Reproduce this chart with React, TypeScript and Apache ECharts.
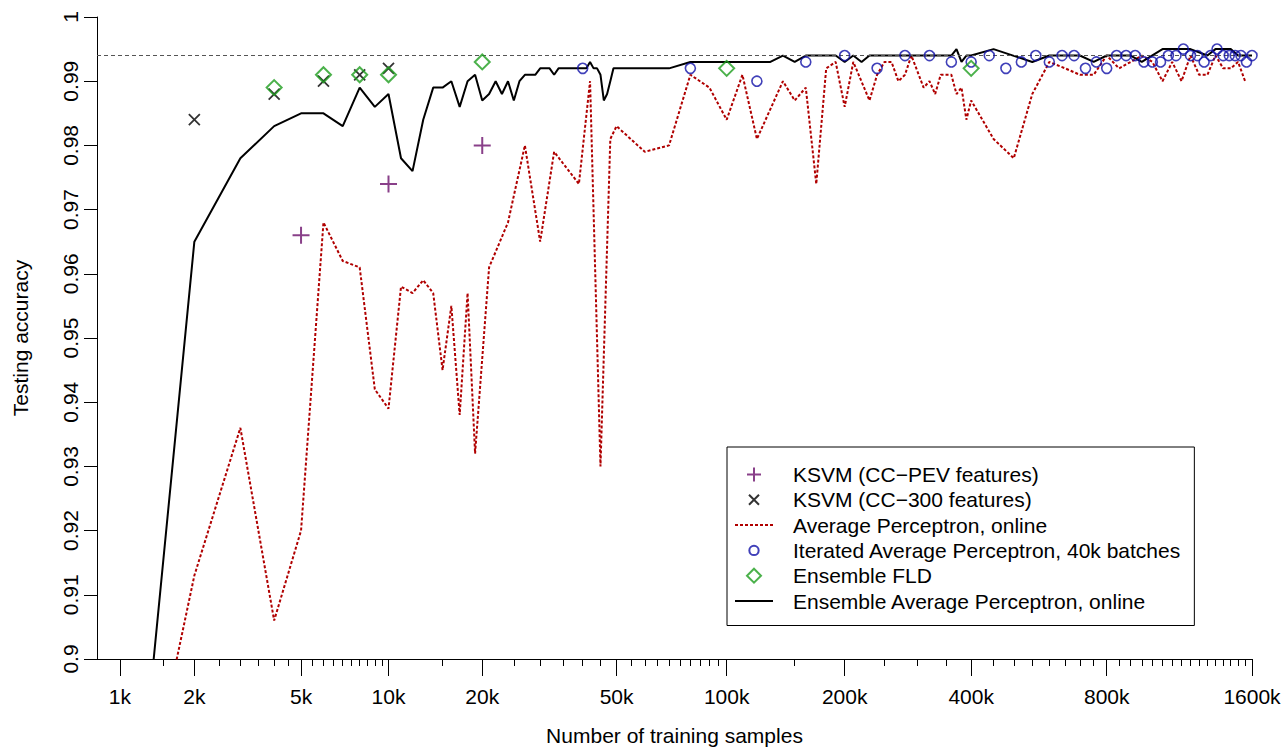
import React, { useEffect, useRef } from "react";
import * as echarts from "echarts";

// x values are numbers of training samples in thousands ("k")
const X_TICKS = [1, 2, 5, 10, 20, 50, 100, 200, 400, 800, 1600];
const X_TICK_LABELS = ["1k", "2k", "5k", "10k", "20k", "50k", "100k", "200k", "400k", "800k", "1600k"];
const X_MINOR_TICKS = [
  1.5, 2.5, 3, 3.5, 4, 4.5, 5.5, 6, 6.5, 7, 7.5, 8, 8.5, 9, 9.5, 15, 25, 30, 35, 40, 45,
  55, 60, 65, 70, 75, 80, 85, 90, 95, 150, 250, 300, 350, 450, 500, 550, 600, 650, 700, 750,
  850, 900, 950, 1000, 1050, 1100, 1150, 1200, 1250, 1300, 1350, 1400, 1450, 1500, 1550,
];
const X_MIN = 0.8;
const X_MAX = 1600;
const Y_MIN = 0.9;
const Y_MAX = 1;
const REFERENCE_ACCURACY = 0.994;

const KSVM_PEV_X = [5, 10, 20];
const KSVM_PEV_Y = [0.966, 0.974, 0.98];

const KSVM_300_X = [2, 4, 6, 8, 10];
const KSVM_300_Y = [0.984, 0.988, 0.99, 0.991, 0.992];

const FLD_X = [4, 6, 8, 10, 20, 100, 400];
const FLD_Y = [0.989, 0.991, 0.991, 0.991, 0.993, 0.992, 0.992];

const ITER_X = [
  40, 80, 120, 160, 200, 240, 280, 320, 360, 400, 440, 480, 520, 560, 600, 640, 680, 720, 760, 800,
  840, 880, 920, 960, 1000, 1040, 1080, 1120, 1160, 1200, 1240, 1280, 1320, 1360, 1400, 1440, 1480, 1520, 1560, 1600,
];
const ITER_Y = [
  0.992, 0.992, 0.99, 0.993, 0.994, 0.992, 0.994, 0.994, 0.993, 0.993, 0.994, 0.992, 0.993, 0.994, 0.993, 0.994, 0.994, 0.992, 0.993, 0.992,
  0.994, 0.994, 0.994, 0.993, 0.993, 0.993, 0.994, 0.994, 0.995, 0.994, 0.994, 0.993, 0.994, 0.995, 0.994, 0.994, 0.994, 0.994, 0.993, 0.994,
];

const AVG_X = [
  1, 2, 3, 4, 5, 6, 7, 8, 9, 10, 11, 12, 13, 14, 15, 16, 17, 18, 19, 21, 24, 27, 30, 33, 39, 42, 45, 48, 50,
  60, 70, 80, 90, 100, 110, 120, 140, 150, 160, 170, 180, 190, 200, 210, 230, 240, 250, 260, 270, 280, 290,
  310, 320, 330, 340, 360, 370, 380, 390, 400, 450, 500, 550, 600, 650, 700, 750, 800, 850, 900, 950, 1000,
  1050, 1100, 1150, 1200, 1250, 1300, 1350, 1400, 1450, 1500, 1550,
];
const AVG_Y = [
  0.858, 0.913, 0.936, 0.906, 0.92, 0.968, 0.962, 0.961, 0.942, 0.939, 0.958, 0.957, 0.959, 0.957, 0.945, 0.955, 0.938, 0.957, 0.932, 0.961, 0.968, 0.98, 0.965, 0.979, 0.974, 0.99, 0.93, 0.981, 0.983,
  0.979, 0.98, 0.991, 0.989, 0.984, 0.991, 0.981, 0.99, 0.987, 0.989, 0.974, 0.992, 0.993, 0.986, 0.993, 0.987, 0.991, 0.993, 0.993, 0.99, 0.991, 0.994,
  0.989, 0.99, 0.988, 0.991, 0.991, 0.988, 0.989, 0.984, 0.987, 0.981, 0.978, 0.988, 0.993, 0.992, 0.991, 0.991, 0.994, 0.992, 0.993, 0.994, 0.993,
  0.99, 0.993, 0.99, 0.994, 0.991, 0.991, 0.994, 0.992, 0.992, 0.993, 0.99,
];

const ENS_X = [
  1, 2, 3, 4, 5, 6, 7, 8, 9, 10, 11, 12, 13, 14, 15, 16, 17, 18, 19, 20, 21, 22, 23, 24, 25, 26, 27, 29, 30, 32, 33, 34,
  41, 42, 43, 44, 45, 46, 47, 48, 49, 70, 80, 130, 140, 150, 160, 190, 200, 210, 220, 230, 360, 370, 380, 390, 400,
  450, 550, 600, 700, 750, 800, 900, 950, 1050, 1200, 1300, 1350, 1450, 1500, 1600,
];
const ENS_Y = [
  0.846, 0.965, 0.978, 0.983, 0.985, 0.985, 0.983, 0.989, 0.986, 0.988, 0.978, 0.976, 0.984, 0.989, 0.989, 0.99, 0.986, 0.99, 0.991, 0.987, 0.988, 0.99, 0.988, 0.99, 0.987, 0.99, 0.991, 0.991, 0.992, 0.992, 0.991, 0.992,
  0.992, 0.993, 0.992, 0.992, 0.991, 0.987, 0.988, 0.99, 0.992, 0.992, 0.993, 0.993, 0.994, 0.993, 0.994, 0.994, 0.993, 0.994, 0.993, 0.994, 0.994, 0.995, 0.993, 0.994, 0.994,
  0.995, 0.993, 0.994, 0.994, 0.993, 0.994, 0.994, 0.993, 0.995, 0.995, 0.994, 0.995, 0.995, 0.994, 0.994,
];

const NAMES = [
  "KSVM (CC\u2212PEV features)",
  "KSVM (CC\u2212300 features)",
  "Average Perceptron, online",
  "Iterated Average Perceptron, 40k batches",
  "Ensemble FLD",
  "Ensemble Average Perceptron, online",
];

const FONT = "'Liberation Sans', Arial, Helvetica, sans-serif";
const FS = 21;

const COL_PEV = "#6c106c";
const COL_300 = "#000000";
const COL_AVG = "#b00000";
const COL_ITER = "#1010a8";
const COL_FLD = "#1e9e1e";
const COL_ENS = "#000000";

// power transform of the sample-count axis (x^0.1)
const tx = (k: number) => Math.pow(k, 0.1);
const pts = (xs: number[], ys: number[]) => xs.map((x, i) => [tx(x), ys[i]]);

const PLUS = "path://M5,0L5,10M0,5L10,5";
const CROSS = "path://M0,0L10,10M10,0L0,10";
const DIAMOND = "path://M5,0L10,5L5,10L0,5Z";
// legend icons (moveTo points pad the icon box so the glyph is drawn smaller)
const CROSS_ICON = "path://M-2,-2M12,12M0,0L10,10M10,0L0,10";
const CIRCLE_ICON = "path://M-2.5,-2.5M12.5,12.5M0,5A5,5,0,1,1,10,5A5,5,0,1,1,0,5Z";
const HIDDEN_SYMBOL = { opacity: 0, borderWidth: 0 };

export default function App() {
  const ref = useRef<HTMLDivElement>(null);
  useEffect(() => {
    if (!ref.current) return;
    const chart = echarts.init(ref.current, null, { renderer: "svg" });
    const tickT = X_TICKS.map(tx);
    const labelFor = (v: number) => {
      let best = 0;
      for (let i = 1; i < tickT.length; i++) {
        if (Math.abs(tickT[i] - v) < Math.abs(tickT[best] - v)) best = i;
      }
      return X_TICK_LABELS[best];
    };
    chart.setOption({
      animation: false,
      backgroundColor: "#ffffff",
      textStyle: { fontFamily: FONT, color: "#000" },
      grid: { left: 97, right: 34, top: 17, bottom: 91 },
      xAxis: [
        {
          type: "value",
          min: tx(X_MIN),
          max: tx(X_MAX),
          position: "bottom",
          name: "Number of training samples",
          nameLocation: "middle",
          nameGap: 66,
          nameTextStyle: { fontSize: FS, color: "#000", fontFamily: FONT },
          axisLine: { show: true, lineStyle: { color: "#000", width: 1 } },
          axisTick: { show: true, length: 17, customValues: tickT, lineStyle: { color: "#000", width: 1 } },
          axisLabel: {
            show: true,
            customValues: tickT,
            formatter: (v: number) => labelFor(v),
            fontSize: FS,
            color: "#000",
            fontFamily: FONT,
            margin: 27,
          },
          splitLine: { show: false },
        },
        {
          type: "value",
          min: tx(X_MIN),
          max: tx(X_MAX),
          position: "bottom",
          axisLine: { show: false },
          axisTick: { show: true, length: 7, customValues: X_MINOR_TICKS.map(tx), lineStyle: { color: "#000", width: 1 } },
          axisLabel: { show: false },
          splitLine: { show: false },
        },
      ],
      yAxis: {
        type: "value",
        min: Y_MIN,
        max: Y_MAX,
        interval: 0.01,
        name: "Testing accuracy",
        nameLocation: "middle",
        nameGap: 66,
        nameRotate: 90,
        nameTextStyle: { fontSize: FS, color: "#000", fontFamily: FONT },
        axisLine: { show: true, lineStyle: { color: "#000", width: 1 } },
        axisTick: { show: true, length: 13, lineStyle: { color: "#000", width: 1 } },
        axisLabel: { rotate: 90, fontSize: FS, color: "#000", fontFamily: FONT, margin: 16 },
        splitLine: { show: false },
      },
      legend: {
        left: 727,
        top: 447,
        orient: "vertical",
        padding: [17, 13, 14, 7],
        borderColor: "#000",
        borderWidth: 1,
        itemWidth: 38,
        itemHeight: 14,
        itemGap: 4.3,
        symbolKeepAspect: true,
        textStyle: { fontSize: FS, color: "#000", fontFamily: FONT, lineHeight: 21, padding: [0, 0, 0, 15] },
        data: [
          { name: NAMES[0], icon: PLUS },
          { name: NAMES[1], icon: CROSS_ICON },
          { name: NAMES[2], itemStyle: HIDDEN_SYMBOL },
          { name: NAMES[3], icon: CIRCLE_ICON },
          { name: NAMES[4], icon: DIAMOND },
          { name: NAMES[5], itemStyle: HIDDEN_SYMBOL },
        ],
      },
      series: [
        {
          name: NAMES[2],
          type: "line",
          data: pts(AVG_X, AVG_Y),
          symbol: "none",
          clip: true,
          lineStyle: { color: COL_AVG, width: 2, type: [3, 2] },
          itemStyle: { color: COL_AVG },
          z: 2,
          markLine: {
            silent: true,
            symbol: "none",
            precision: 4,
            label: { show: false },
            lineStyle: { color: "#555", width: 1, type: [4, 3] },
            data: [{ yAxis: REFERENCE_ACCURACY }],
          },
        },
        {
          name: NAMES[5],
          type: "line",
          data: pts(ENS_X, ENS_Y),
          symbol: "none",
          clip: true,
          lineStyle: { color: COL_ENS, width: 2 },
          itemStyle: { color: COL_ENS },
          z: 3,
        },
        {
          name: NAMES[0],
          type: "scatter",
          data: pts(KSVM_PEV_X, KSVM_PEV_Y),
          symbol: PLUS,
          symbolSize: 17,
          itemStyle: { color: "rgba(0,0,0,0)", borderColor: COL_PEV, borderWidth: 2 },
          z: 4,
        },
        {
          name: NAMES[1],
          type: "scatter",
          data: pts(KSVM_300_X, KSVM_300_Y),
          symbol: CROSS,
          symbolSize: 11,
          itemStyle: { color: "rgba(0,0,0,0)", borderColor: COL_300, borderWidth: 1.8 },
          z: 4,
        },
        {
          name: NAMES[3],
          type: "scatter",
          data: pts(ITER_X, ITER_Y),
          symbol: "circle",
          symbolSize: 10,
          itemStyle: { color: "rgba(0,0,0,0)", borderColor: COL_ITER, borderWidth: 1.6 },
          z: 5,
        },
        {
          name: NAMES[4],
          type: "scatter",
          data: pts(FLD_X, FLD_Y),
          symbol: DIAMOND,
          symbolSize: 15,
          itemStyle: { color: "rgba(0,0,0,0)", borderColor: COL_FLD, borderWidth: 2 },
          z: 5,
        },
      ],
    });
    return () => chart.dispose();
  }, []);
  return (
    <div
      ref={ref}
      style={{ position: "fixed", left: 0, top: 0, width: 1286, height: 751, background: "#fff" }}
    />
  );
}
